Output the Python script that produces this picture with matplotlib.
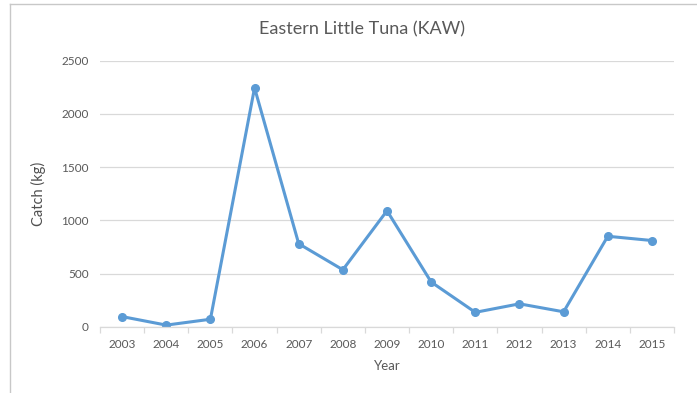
import matplotlib
matplotlib.use("Agg")
import matplotlib.pyplot as plt
from matplotlib.lines import Line2D
import numpy as np

years = ["2003", "2004", "2005", "2006", "2007", "2008", "2009",
         "2010", "2011", "2012", "2013", "2014", "2015"]
catch_kg = [95, 15, 70, 2245, 780, 535, 1090, 420, 135, 215, 140, 850, 810]

plt.rcParams["font.family"] = ["Lato", "DejaVu Sans"]
text_col = "#595959"
grid_col = "#d9d9d9"

fig = plt.figure(figsize=(6.97, 3.93), dpi=100)
ax = fig.add_axes([0.1435, 0.1687, 0.8235, 0.6768])

x = np.arange(len(years))
ax.plot(x, catch_kg, color="#5B9BD5", linewidth=2.2, marker="o", markersize=5.5)

ax.set_xlim(-0.5, len(years) - 0.5)
ax.set_ylim(0, 2500)
ax.set_yticks(range(0, 2501, 500))
ax.set_xticks(x)
ax.set_xticklabels(years)
ax.set_xticks(np.arange(-0.5, len(years), 1), minor=True)

ax.grid(axis="y", color=grid_col, linewidth=0.9)
ax.set_axisbelow(True)
for s in ["top", "right", "left"]:
    ax.spines[s].set_visible(False)
ax.spines["bottom"].set_color(grid_col)
ax.spines["bottom"].set_linewidth(0.9)

ax.tick_params(axis="y", length=0, pad=8, labelsize=8.5, labelcolor=text_col)
ax.tick_params(axis="x", which="major", length=0, pad=9, labelsize=8.5, labelcolor=text_col)
ax.tick_params(axis="x", which="minor", length=4, color=grid_col, width=0.9)

ax.set_ylabel("Catch (kg)", color="#505050", fontsize=10.5, labelpad=11)
ax.set_xlabel("Year", color=text_col, fontsize=9.5, labelpad=7)

fig.text(0.519, 0.924, "Eastern Little Tuna (KAW)", ha="center", va="center",
         fontsize=13, color=text_col)

# chart border (top and left edges visible in the original screenshot)
fig.add_artist(Line2D([10 / 697, 1], [1 - 4 / 393, 1 - 4 / 393],
                      transform=fig.transFigure, color="#c8c8c8", linewidth=1))
fig.add_artist(Line2D([10 / 697, 10 / 697], [0, 1 - 4 / 393],
                      transform=fig.transFigure, color="#c8c8c8", linewidth=1))

fig.savefig("out.png", dpi=100)
